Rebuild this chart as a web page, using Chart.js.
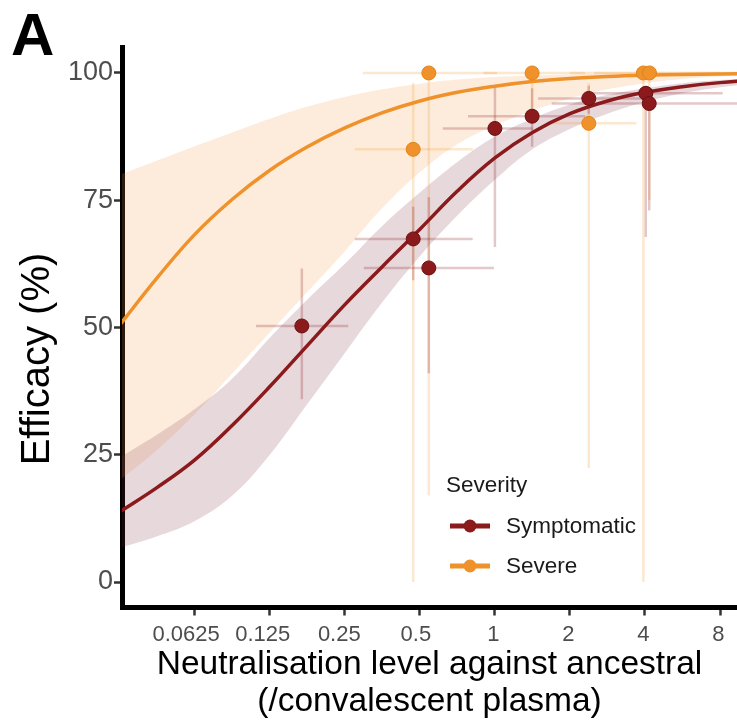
<!DOCTYPE html>
<html>
<head>
<meta charset="utf-8">
<script src="https://cdn.jsdelivr.net/npm/chart.js@4.4.1/dist/chart.umd.min.js"></script>
<style>
  html, body { margin: 0; padding: 0; background: #fff; }
</style>
</head>
<body>
<canvas id="efficacyChart" width="737" height="721"></canvas>
<script>
const FONT = "'Liberation Sans', Arial, Helvetica, sans-serif";

// x axis (neutralisation, fold of convalescent plasma)
const xMin = 0.0319;
const xMax = 9.36;
const xTicks = [0.0625, 0.125, 0.25, 0.5, 1, 2, 4, 8];
const xTickLabels = ['0.0625', '0.125', '0.25', '0.5', '1', '2', '4', '8'];
const yTicks = [0, 25, 50, 75, 100];

const fitLevels = [0.03125, 0.0442, 0.0625, 0.0884, 0.125, 0.177, 0.25, 0.354, 0.5, 0.707, 1, 1.414, 2, 2.83, 4, 5.66, 8, 11.3];

// symptomatic fit + 95% band
const symFit = [13.8, 18.6, 24.0, 30.8, 38.4, 46.5, 54.5, 62.0, 69.3, 76.8, 83.3, 88.3, 92.0, 94.5, 96.2, 97.3, 98.1, 98.6];
const symLow = [6.7, 9, 12, 17, 25, 35, 45, 55, 64, 72, 79, 85, 89, 92, 94.3, 96, 97.2, 98];
const symHigh = [24.5, 29, 34, 40, 48, 55.5, 62.5, 70, 76.5, 82.5, 87.5, 91, 93.8, 95.7, 97, 98, 98.6, 99];

// severe fit + 95% band
const sevFit = [50.5, 59.8, 68.3, 75.2, 80.9, 85.5, 89.2, 92.2, 94.5, 96.2, 97.4, 98.3, 98.9, 99.3, 99.55, 99.7, 99.8, 99.87];
const sevLow = [20, 26, 33, 41, 49, 57, 65, 73.5, 80.5, 86, 89.7, 92.6, 95, 96.8, 98, 98.8, 99.3, 99.6];
const sevHigh = [80, 82.8, 85.6, 88.3, 91.0, 93.4, 95.3, 96.8, 97.9, 98.7, 99.2, 99.5, 99.7, 99.85, 99.95, 100, 100, 100];

// study points (symptomatic)
const symX = [0.168, 0.47, 0.543, 1.0, 1.41, 2.38, 4.03, 4.16];
const symY = [50.3, 67.4, 61.7, 89.1, 91.5, 95.0, 96.0, 94.0];
const symXLo = [0.110, 0.274, 0.298, 0.618, 0.78, 1.49, 2.3, 1.69];
const symXHi = [0.258, 0.814, 0.99, 1.42, 2.3, 4.2, 8.2, 12];
const symYLo = [35.9, 59.3, 41.0, 65.8, 85.5, 92.0, 67.8, 73.0];
const symYHi = [61.6, 73.7, 75.6, 97.2, 97.0, 97.5, 97.5, 97.0];

// study points (severe)
const sevX = [0.47, 0.543, 1.41, 2.38, 3.94, 4.17];
const sevY = [85.0, 100, 100, 90.1, 100, 100];
const sevXLo = [0.274, 0.295, 0.9, 1.62, 2.0, 2.5];
const sevXHi = [0.816, 1.02, 2.3, 3.7, 8, 12];
const sevYLo = [0, 17, 92, 22.4, 0, 75];
const sevYHi = [98, 100, 100, 98, 100, 100];

const symColor = '#8B1A1C';
const sevColor = '#F0922B';

const toPts = (xs, ys) => xs.map((x, i) => ({ x: x, y: ys[i] }));

// error bars, drawn under the fitted lines
const errorBarPlugin = {
  id: 'errorBars',
  beforeDatasetDraw(chart, args) {
    if (args.index !== 4) return;
    const ctx = chart.ctx;
    const xs = chart.scales.x, ys = chart.scales.y;
    const area = chart.chartArea;
    ctx.save();
    ctx.beginPath();
    ctx.rect(area.left, area.top, area.right - area.left, area.bottom - area.top);
    ctx.clip();
    ctx.lineWidth = 2.5;
    const bars = (x, y, xlo, xhi, ylo, yhi, col) => {
      ctx.strokeStyle = col;
      for (let i = 0; i < x.length; i++) {
        const px = xs.getPixelForValue(x[i]);
        const py = ys.getPixelForValue(y[i]);
        ctx.beginPath();
        ctx.moveTo(xs.getPixelForValue(xlo[i]), py);
        ctx.lineTo(xs.getPixelForValue(xhi[i]), py);
        ctx.moveTo(px, ys.getPixelForValue(ylo[i]));
        ctx.lineTo(px, ys.getPixelForValue(yhi[i]));
        ctx.stroke();
      }
    };
    bars(sevX, sevY, sevXLo, sevXHi, sevYLo, sevYHi, 'rgba(240,146,43,0.22)');
    bars(symX, symY, symXLo, symXHi, symYLo, symYHi, 'rgba(139,26,28,0.24)');
    ctx.restore();
  }
};

// panel letter, y title, x tick labels and the legend inside the panel
const decorPlugin = {
  id: 'decor',
  afterDraw(chart) {
    const ctx = chart.ctx;
    const xs = chart.scales.x;
    ctx.save();
    ctx.fillStyle = '#000';
    ctx.font = 'bold 60px ' + FONT;
    ctx.textBaseline = 'alphabetic';
    ctx.textAlign = 'left';
    ctx.fillText('A', 11, 55);

    // x tick labels sit slightly left of their ticks in the original
    ctx.fillStyle = '#4d4d4d';
    ctx.font = '22px ' + FONT;
    ctx.textAlign = 'center';
    ctx.textBaseline = 'middle';
    xTicks.forEach((v, i) => {
      const w = ctx.measureText(xTickLabels[i]).width;
      ctx.fillText(xTickLabels[i], xs.getPixelForValue(v) - 0.13 * w, 635);
    });

    ctx.fillStyle = '#000';
    ctx.translate(38, 359);
    ctx.rotate(-Math.PI / 2);
    ctx.font = '40px ' + FONT;
    ctx.fillText('Efficacy (%)', 0, 0);
    ctx.restore();

    ctx.save();
    ctx.textBaseline = 'middle';
    ctx.textAlign = 'left';
    ctx.fillStyle = '#1a1a1a';
    ctx.font = '22.5px ' + FONT;
    ctx.fillText('Severity', 446, 486);
    const keys = [['Symptomatic', symColor, 526], ['Severe', sevColor, 566]];
    keys.forEach(k => {
      ctx.strokeStyle = k[1];
      ctx.lineWidth = 5;
      ctx.beginPath();
      ctx.moveTo(450, k[2]);
      ctx.lineTo(490, k[2]);
      ctx.stroke();
      ctx.fillStyle = k[1];
      ctx.beginPath();
      ctx.arc(470, k[2], 6.5, 0, Math.PI * 2);
      ctx.fill();
      ctx.fillStyle = '#1a1a1a';
      ctx.fillText(k[0], 506, k[2] + 1);
    });
    ctx.restore();
  }
};

const ribbon = (data, fill, color, order) => ({
  type: 'line', data: data, fill: fill, backgroundColor: color,
  borderWidth: 0, pointRadius: 0, tension: 0.4, order: order
});

new Chart(document.getElementById('efficacyChart'), {
  type: 'line',
  data: {
    datasets: [
      ribbon(toPts(fitLevels, sevHigh), 1, 'rgba(245,150,60,0.18)', 10),
      ribbon(toPts(fitLevels, sevLow), false, 'transparent', 9),
      ribbon(toPts(fitLevels, symHigh), 3, 'rgba(120,40,60,0.18)', 8),
      ribbon(toPts(fitLevels, symLow), false, 'transparent', 7),
      {
        type: 'line', label: 'Severe', data: toPts(fitLevels, sevFit),
        borderColor: sevColor, borderWidth: 3.5, pointRadius: 0, fill: false,
        tension: 0.4, order: 4
      },
      {
        type: 'line', label: 'Symptomatic', data: toPts(fitLevels, symFit),
        borderColor: symColor, borderWidth: 3.5, pointRadius: 0, fill: false,
        tension: 0.4, order: 3
      },
      {
        type: 'scatter', data: toPts(sevX, sevY), pointRadius: 7,
        pointBackgroundColor: sevColor, pointBorderColor: '#E08418', pointBorderWidth: 1, order: 2
      },
      {
        type: 'scatter', data: toPts(symX, symY), pointRadius: 7,
        pointBackgroundColor: symColor, pointBorderColor: '#6A1012', pointBorderWidth: 1, order: 1
      }
    ]
  },
  options: {
    responsive: false,
    animation: false,
    layout: { autoPadding: false, padding: { top: 47.5, right: 0, bottom: 0, left: 0 } },
    plugins: { legend: { display: false }, tooltip: { enabled: false } },
    scales: {
      x: {
        type: 'logarithmic',
        min: xMin,
        max: xMax,
        afterBuildTicks: s => { s.ticks = xTicks.map(v => ({ value: v })); },
        afterFit: s => { s.height = 113.5; s.paddingLeft = 0; s.paddingRight = 0; },
        ticks: {
          callback: (v, i) => xTickLabels[i],
          color: 'rgba(0,0,0,0)', font: { size: 22, family: FONT },
          padding: 8, maxRotation: 0, autoSkip: false
        },
        grid: { drawOnChartArea: false, tickLength: 8, tickColor: '#333', tickWidth: 2.5 },
        border: { display: true, color: '#000', width: 5 },
        title: {
          display: true,
          text: ['Neutralisation level against ancestral', '(/convalescent plasma)'],
          color: '#000', font: { size: 33.5, family: FONT, lineHeight: 1.12 },
          padding: { top: 0, bottom: 0 }
        }
      },
      y: {
        min: -5,
        max: 105,
        afterBuildTicks: s => { s.ticks = yTicks.map(v => ({ value: v })); },
        afterFit: s => { s.width = 122; },
        ticks: { color: '#4d4d4d', font: { size: 27, family: FONT }, padding: 1 },
        grid: { drawOnChartArea: false, tickLength: 8, tickColor: '#333', tickWidth: 2.5 },
        border: { display: true, color: '#000', width: 5 }
      }
    }
  },
  plugins: [errorBarPlugin, decorPlugin]
});
</script>
</body>
</html>
